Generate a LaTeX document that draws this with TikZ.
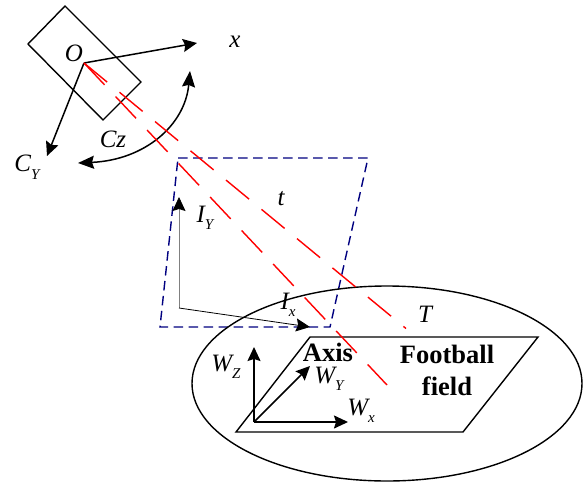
\documentclass[tikz,border=0pt]{standalone}
\usepackage{fontspec}
\setmainfont{Liberation Serif}
\usetikzlibrary{arrows.meta}
\definecolor{navyline}{RGB}{0,0,128}
\newcommand{\subt}[1]{\raisebox{-0.3em}{\fontsize{15}{15}\selectfont #1}}
\tikzset{
 x=1pt,y=-1pt,
 ax/.style={line width=1.5pt,-{Stealth[length=14pt,width=13pt,inset=2pt]}},
 thinax/.style={line width=0.8pt,-{Stealth[length=14pt,width=13pt,inset=2pt,color=black]}},
 outline/.style={line width=1.4pt},
 ray/.style={red,line width=1.4pt,dash pattern=on 30pt off 16pt},
 view/.style={navyline,line width=1.4pt,dash pattern=on 9.5pt off 5.5pt},
 lbl/.style={inner sep=0pt,font=\fontsize{25}{25}\selectfont\itshape},
 boldlbl/.style={inner sep=0pt,font=\fontsize{26.5}{26.5}\selectfont\bfseries,align=center}
}
\begin{document}
\begin{tikzpicture}
\useasboundingbox (0,0) rectangle (583,482);
% camera
\coordinate (r1) at (65,6); \coordinate (r2) at (28,44); \coordinate (r3) at (103,120); \coordinate (r4) at (141,82);
\draw[outline] (r1)--(r2)--(r3)--(r4)--cycle;
\coordinate (O) at (84,63);
\coordinate (xe) at (197,43);
\coordinate (cy) at (47,156);
\draw[ax] (O)--(xe);
\draw[ax] (O)--(cy);
\coordinate (c1) at (190,71); \coordinate (c2) at (78,163);
\draw[line width=1.5pt,{Stealth[length=16pt,width=13pt,inset=2pt]}-{Stealth[length=16pt,width=13pt,inset=2pt]}] (c1) .. controls (185,125) and (145,160) .. (c2);
% image plane
\coordinate (p1) at (178,158); \coordinate (p2) at (368,158); \coordinate (p3) at (330,327); \coordinate (p4) at (160,327);
\draw[view] (p1)--(p2)--(p3)--(p4)--cycle;
\coordinate (i0) at (179,308); \coordinate (iy) at (179,197); \coordinate (ix) at (310,327);
\draw[thinax,draw=gray] (i0)--(iy);
\draw[thinax] (i0)--(ix);
% field
\coordinate (ec) at (387,383.5);
\draw[outline] (ec) ellipse [x radius=195,y radius=97.5];
\coordinate (f1) at (310,337); \coordinate (f2) at (538,337); \coordinate (f3) at (463,432); \coordinate (f4) at (236,432);
\draw[outline] (f1)--(f2)--(f3)--(f4)--cycle;
\coordinate (w0) at (254,422); \coordinate (wz) at (254,347); \coordinate (wy) at (310,366); \coordinate (wx) at (348,422);
\draw[ax] (w0)--(wz);
\draw[ax] (w0)--(wy);
\draw[ax] (w0)--(wx);
% rays
\coordinate (t1) at (406,328.5); \coordinate (t2) at (387,385);
\draw[ray] (O)--(t1);
\draw[ray] (O)--(t2);
% labels
\node[lbl] (lO) at (74,53) {O};
\node[lbl] (lx) at (235,42) {x};
\node[lbl] (lcy) at (27,167) {C\subt{Y}};
\node[lbl] (lcz) at (113,139) {Cz};
\node[lbl] (lt) at (281,199) {t};
\node[lbl] (liy) at (205,218) {I\subt{Y}};
\node[lbl] (lix) at (288,305) {I\subt{x}};
\node[lbl] (lT) at (425,314) {T};
\node[lbl] (lwz) at (226,367) {W\subt{Z}};
\node[lbl] (lwy) at (329,379) {W\subt{Y}};
\node[lbl] (lwx) at (361,411) {W\subt{x}};
\node[boldlbl] (laxis) at (328,352) {Axis};
\node[boldlbl] (lfoot) at (447,354) {Football};
\node[boldlbl] (lfield) at (447,386) {field};
\end{tikzpicture}
\end{document}
